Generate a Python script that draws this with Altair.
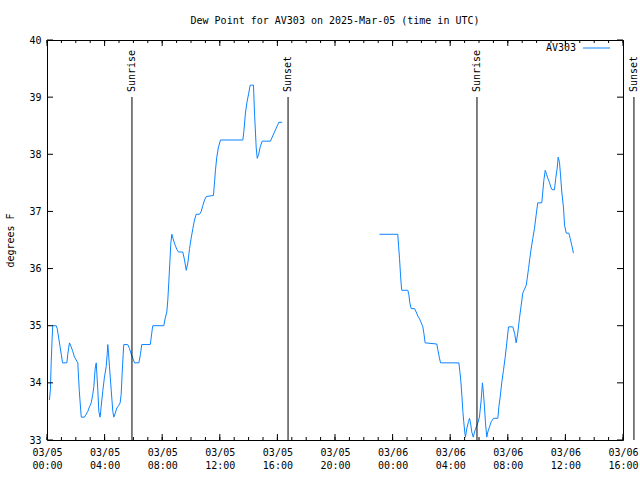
import altair as alt
import pandas as pd

# ---- data (hours after 2025-03-05 00:00 UTC, dew point in deg F)
seg1_hours = [0.17, 0.24, 0.29, 0.36, 0.40, 0.64, 0.71, 0.80, 0.89, 0.99, 1.08, 1.38, 1.44, 1.56, 1.68,
              1.79, 1.91, 2.03, 2.14, 2.17, 2.24, 2.33, 2.38, 2.60, 2.72, 2.83, 2.95, 3.07, 3.18, 3.25,
              3.30, 3.35, 3.42, 3.46, 3.53, 3.60, 3.69, 3.76, 3.88, 3.99, 4.11, 4.18, 4.22, 4.27, 4.34,
              4.46, 4.57, 4.64, 4.74, 4.85, 4.97, 5.08, 5.15, 5.22, 5.29, 5.33, 5.61, 5.73, 5.85, 5.96,
              6.08, 6.38, 6.49, 6.58, 7.17, 7.24, 7.31, 7.35, 8.11, 8.21, 8.32, 8.39, 8.46, 8.53, 8.60,
              8.67, 8.78, 8.90, 9.01, 9.13, 9.43, 9.55, 9.67, 9.78, 9.90, 10.01, 10.13, 10.24, 10.36,
              10.59, 10.71, 10.82, 10.94, 11.06, 11.56, 11.63, 11.70, 11.79, 11.91, 12.05, 13.60, 13.67,
              13.78, 13.88, 14.01, 14.11, 14.34, 14.41, 14.53, 14.60, 14.69, 14.81, 14.94, 15.52, 15.64,
              15.80, 15.96, 16.10, 16.33]
seg1_dewpt = [33.70, 33.90, 34.35, 34.80, 35.00, 35.00, 34.95, 34.80, 34.66, 34.50, 34.35, 34.35, 34.50,
              34.70, 34.63, 34.55, 34.45, 34.40, 34.35, 34.20, 33.87, 33.56, 33.40, 33.40, 33.45, 33.50,
              33.58, 33.65, 33.80, 33.93, 34.10, 34.26, 34.35, 34.17, 33.87, 33.50, 33.40, 33.58, 33.87,
              34.10, 34.28, 34.50, 34.67, 34.53, 34.28, 33.87, 33.50, 33.40, 33.47, 33.56, 33.60, 33.65,
              33.80, 34.17, 34.50, 34.67, 34.67, 34.60, 34.50, 34.43, 34.35, 34.35, 34.50, 34.67, 34.67,
              34.80, 34.94, 35.00, 35.00, 35.13, 35.24, 35.45, 35.77, 36.10, 36.45, 36.60, 36.50, 36.41,
              36.34, 36.29, 36.29, 36.15, 35.97, 36.10, 36.35, 36.53, 36.70, 36.85, 36.95, 36.95, 37.00,
              37.10, 37.20, 37.26, 37.28, 37.50, 37.72, 37.95, 38.13, 38.25, 38.25, 38.40, 38.72, 38.90,
              39.07, 39.21, 39.21, 38.72, 38.11, 37.93, 37.99, 38.13, 38.23, 38.23, 38.30, 38.39, 38.48,
              38.56, 38.56]

seg2_hours = [23.09, 24.36, 24.41, 24.48, 24.55, 24.60, 24.64, 25.06, 25.13, 25.19, 25.29, 25.52, 25.64,
              25.75, 25.87, 25.99, 26.10, 26.17, 26.26, 27.07, 27.14, 27.24, 27.33, 28.60, 28.67, 28.74,
              28.81, 28.88, 28.94, 29.01, 29.06, 29.15, 29.27, 29.34, 29.41, 29.50, 29.60, 29.69, 29.81,
              29.92, 30.03, 30.15, 30.24, 30.31, 30.38, 30.45, 30.54, 30.61, 30.73, 30.85, 31.01, 31.31,
              31.38, 31.47, 31.58, 31.70, 31.82, 31.93, 32.05, 32.35, 32.47, 32.58, 32.69, 32.81, 32.93,
              33.04, 33.16, 33.28, 33.35, 33.44, 33.53, 33.63, 33.74, 33.85, 33.97, 34.08, 34.36, 34.43,
              34.50, 34.60, 34.67, 34.78, 34.90, 35.01, 35.08, 35.24, 35.33, 35.43, 35.50, 35.59, 35.66,
              35.75, 35.87, 35.94, 36.06, 36.24, 36.33, 36.44, 36.56]
seg2_dewpt = [36.60, 36.60, 36.41, 36.18, 35.89, 35.71, 35.62, 35.62, 35.54, 35.41, 35.30, 35.30, 35.24,
              35.17, 35.12, 35.05, 34.98, 34.87, 34.70, 34.68, 34.58, 34.45, 34.35, 34.35, 34.20, 34.03,
              33.78, 33.50, 33.32, 33.14, 33.05, 33.20, 33.32, 33.38, 33.30, 33.14, 33.05, 33.14, 33.23,
              33.30, 33.40, 33.70, 34.00, 33.82, 33.58, 33.30, 33.05, 33.14, 33.23, 33.32, 33.38, 33.38,
              33.58, 33.75, 34.00, 34.22, 34.45, 34.70, 34.98, 34.98, 34.87, 34.70, 34.87, 35.13, 35.36,
              35.57, 35.64, 35.71, 35.83, 36.00, 36.18, 36.36, 36.53, 36.70, 36.94, 37.15, 37.15, 37.34,
              37.54, 37.72, 37.67, 37.58, 37.50, 37.41, 37.38, 37.38, 37.58, 37.76, 37.95, 37.86, 37.64,
              37.34, 37.06, 36.76, 36.62, 36.62, 36.53, 36.41, 36.27]

event_hours = [5.90, 16.74, 29.86, 40.76]
event_labels = ["Sunrise", "Sunset", "Sunrise", "Sunset"]

major_tick_hours = list(range(0, 41, 4))
minor_tick_hours = list(range(0, 41, 1))
y_ticks = [33, 34, 35, 36, 37, 38, 39, 40]

STATION = "AV303"
TITLE = "Dew Point for AV303 on 2025-Mar-05 (time in UTC)"
FONT = "DejaVu Sans Mono"
BLUE = "#0b84ff"

base = pd.Timestamp("2025-03-05 00:00:00")


def iso(h):
    return (base + pd.to_timedelta(h, unit="h")).strftime("%Y-%m-%dT%H:%M:%SZ")


def ms(h):
    return int((pd.Timestamp("2025-03-05", tz="UTC") + pd.to_timedelta(h, unit="h")).timestamp() * 1000)


rows = []
for seg, (hs, vs) in enumerate([(seg1_hours, seg1_dewpt), (seg2_hours, seg2_dewpt)]):
    for h, v in zip(hs, vs):
        rows.append({"time": iso(h), "dewpt": v, "seg": seg, "station": STATION})
df = pd.DataFrame(rows)

ev = pd.DataFrame({"time": [iso(h) for h in event_hours], "label": event_labels})
major = pd.DataFrame({"time": [iso(h) for h in major_tick_hours]})
minor = pd.DataFrame({"time": [iso(h) for h in minor_tick_hours]})
yt = pd.DataFrame({"v": y_ticks})

W, H = 576, 400

xscale = alt.Scale(type="utc", domain=[ms(0), ms(40)])
yscale = alt.Scale(domain=[33, 40], nice=False, zero=False)

xaxis = alt.Axis(
    values=[ms(h) for h in major_tick_hours],
    labelExpr="[utcFormat(datum.value, '%m/%d'), utcFormat(datum.value, '%H:%M')]",
    title=None, ticks=False, domain=False, grid=False,
    labelFont=FONT, labelFontSize=10, labelColor="black",
    labelPadding=7, labelLineHeight=13, labelOverlap=False, labelBound=False,
    labelFlush=False, labelBaseline="top",
)
yaxis = alt.Axis(
    values=y_ticks, format="d", title="degrees F", ticks=False, domain=False, grid=False,
    labelFont=FONT, labelFontSize=10, labelColor="black", labelPadding=6,
    titleFont=FONT, titleFontSize=10, titleFontWeight="normal", titleColor="black",
    titlePadding=13,
)

line = alt.Chart(df).mark_line(color=BLUE, strokeWidth=1).encode(
    x=alt.X("time:T", scale=xscale, axis=xaxis),
    y=alt.Y("dewpt:Q", scale=yscale, axis=yaxis),
    detail="seg:N",
)

rules = alt.Chart(ev).mark_rule(color="black", strokeWidth=1, clip=False).encode(
    x=alt.X("time:T", scale=xscale),
    y=alt.value(57), y2=alt.value(H),
)
labels = alt.Chart(ev).mark_text(
    angle=270, align="left", baseline="middle", font=FONT, fontSize=10, color="black", clip=False
).encode(
    x=alt.X("time:T", scale=xscale),
    y=alt.value(52),
    text="label:N",
)

# inward tick marks (gnuplot style)
bot_major = alt.Chart(major).mark_rule(color="black").encode(
    x=alt.X("time:T", scale=xscale), y=alt.value(H - 6), y2=alt.value(H))
top_major = alt.Chart(major).mark_rule(color="black").encode(
    x=alt.X("time:T", scale=xscale), y=alt.value(0), y2=alt.value(6))
bot_minor = alt.Chart(minor).mark_rule(color="black").encode(
    x=alt.X("time:T", scale=xscale), y=alt.value(H - 3), y2=alt.value(H))
top_minor = alt.Chart(minor).mark_rule(color="black").encode(
    x=alt.X("time:T", scale=xscale), y=alt.value(0), y2=alt.value(3))
left_y = alt.Chart(yt).mark_rule(color="black").encode(
    y=alt.Y("v:Q", scale=yscale), x=alt.value(0), x2=alt.value(6))
right_y = alt.Chart(yt).mark_rule(color="black").encode(
    y=alt.Y("v:Q", scale=yscale), x=alt.value(W - 6), x2=alt.value(W))

# key (label left of sample line, as in gnuplot)
leg_df = pd.DataFrame({"station": [STATION]})
leg_text = alt.Chart(leg_df).mark_text(
    align="right", baseline="middle", font=FONT, fontSize=10, color="black"
).encode(x=alt.value(529), y=alt.value(8), text="station:N")
leg_line = alt.Chart(leg_df).mark_rule(color=BLUE, strokeWidth=1).encode(
    x=alt.value(536), x2=alt.value(563), y=alt.value(8))

chart = alt.layer(
    line, rules, labels, bot_major, top_major, bot_minor, top_minor, left_y, right_y, leg_text, leg_line
).properties(
    width=W, height=H,
    title=alt.TitleParams(TITLE, font=FONT, fontSize=10, fontWeight="normal", color="black",
                          anchor="middle", offset=9),
    autosize=alt.AutoSizeParams(type="none"),
    padding={"left": 47, "top": 40, "right": 17, "bottom": 40},
    background="white",
).configure_view(stroke="black", strokeWidth=1)

chart.save("out.html", embed_options={"renderer": "svg", "actions": False})
